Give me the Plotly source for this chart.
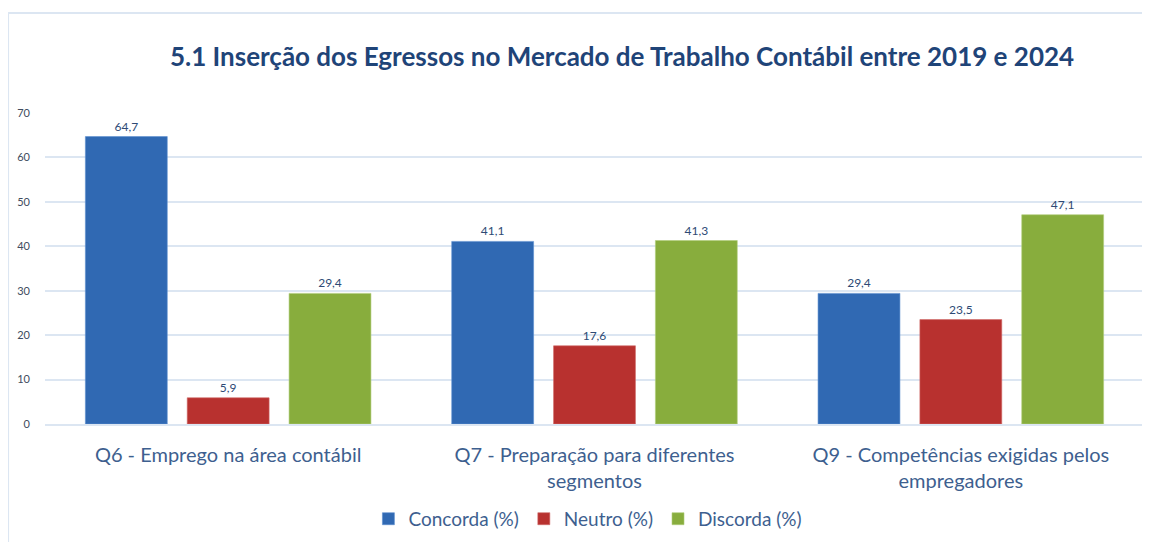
import plotly.graph_objects as go

categories = [
    "Q6 - Emprego na área contábil",
    "Q7 - Preparação para diferentes<br>segmentos",
    "Q9 - Competências exigidas pelos<br>empregadores",
]
series_names = ["Concorda (%)", "Neutro (%)", "Discorda (%)"]
concorda = [64.7, 41.1, 29.4]
neutro = [5.9, 17.6, 23.5]
discorda = [29.4, 41.3, 47.1]
y_ticks = [0, 10, 20, 30, 40, 50, 60, 70]

colors = ["#3069b3", "#b8312f", "#88ad3d"]
edge = ["#5d8fd0", "#d06a68", "#b0cc7a"]

fig = go.Figure()
for name, vals, c, e in zip(series_names, [concorda, neutro, discorda], colors, edge):
    fig.add_trace(go.Bar(
        x=categories, y=vals, name=name,
        marker=dict(color=c, line=dict(color=e, width=0.6)),
        texttemplate="%{y:.1f}", textposition="outside",
        textfont=dict(family="Lato", size=12, color="#2e4a75"),
        cliponaxis=False,
    ))

frame = dict(color="#dce6f2", width=2)
fig.update_layout(
    width=1136, height=534,
    margin=dict(l=37, r=0, t=105, b=118),
    paper_bgcolor="white", plot_bgcolor="white",
    separators=",.",
    barmode="group", bargap=0.166, bargroupgap=0.196,
    font=dict(family="Lato", color="#3e5f8f"),
    title=dict(
        text="<b>5.1 Inserção dos Egressos no Mercado de Trabalho Contábil entre 2019 e 2024</b>",
        x=0.5405, xanchor="center", y=0.908, yanchor="middle",
        font=dict(family="Lato", size=26, color="#1f4478"),
    ),
    showlegend=True,
    legend=dict(
        orientation="h", x=0.494, xanchor="center", y=-0.305, yanchor="middle",
        font=dict(family="Lato", size=19, color="#3e5f8f"),
        itemclick=False, traceorder="normal",
    ),
    shapes=[
        dict(type="line", xref="paper", yref="paper",
             x0=-0.0336, x1=1.1, y0=1.3215, y1=1.3215, line=frame, layer="below"),
        dict(type="line", xref="paper", yref="paper",
             x0=-0.0336, x1=-0.0336, y0=-0.5, y1=1.3215, line=frame, layer="below"),
    ],
)
fig.update_yaxes(
    range=[0, 70], tickvals=y_ticks, showgrid=True, gridcolor="#dce6f2", gridwidth=1.5,
    zeroline=False, showline=False,
    tickfont=dict(family="Lato", size=11, color="#404c60"),
    ticklabelstandoff=14,
)
fig.update_xaxes(
    showline=True, linecolor="#dce6f2", linewidth=1.5,
    tickfont=dict(family="Lato", size=20, color="#3e5f8f"),
    ticklabelstandoff=12,
)

fig.write_html("out.html")
